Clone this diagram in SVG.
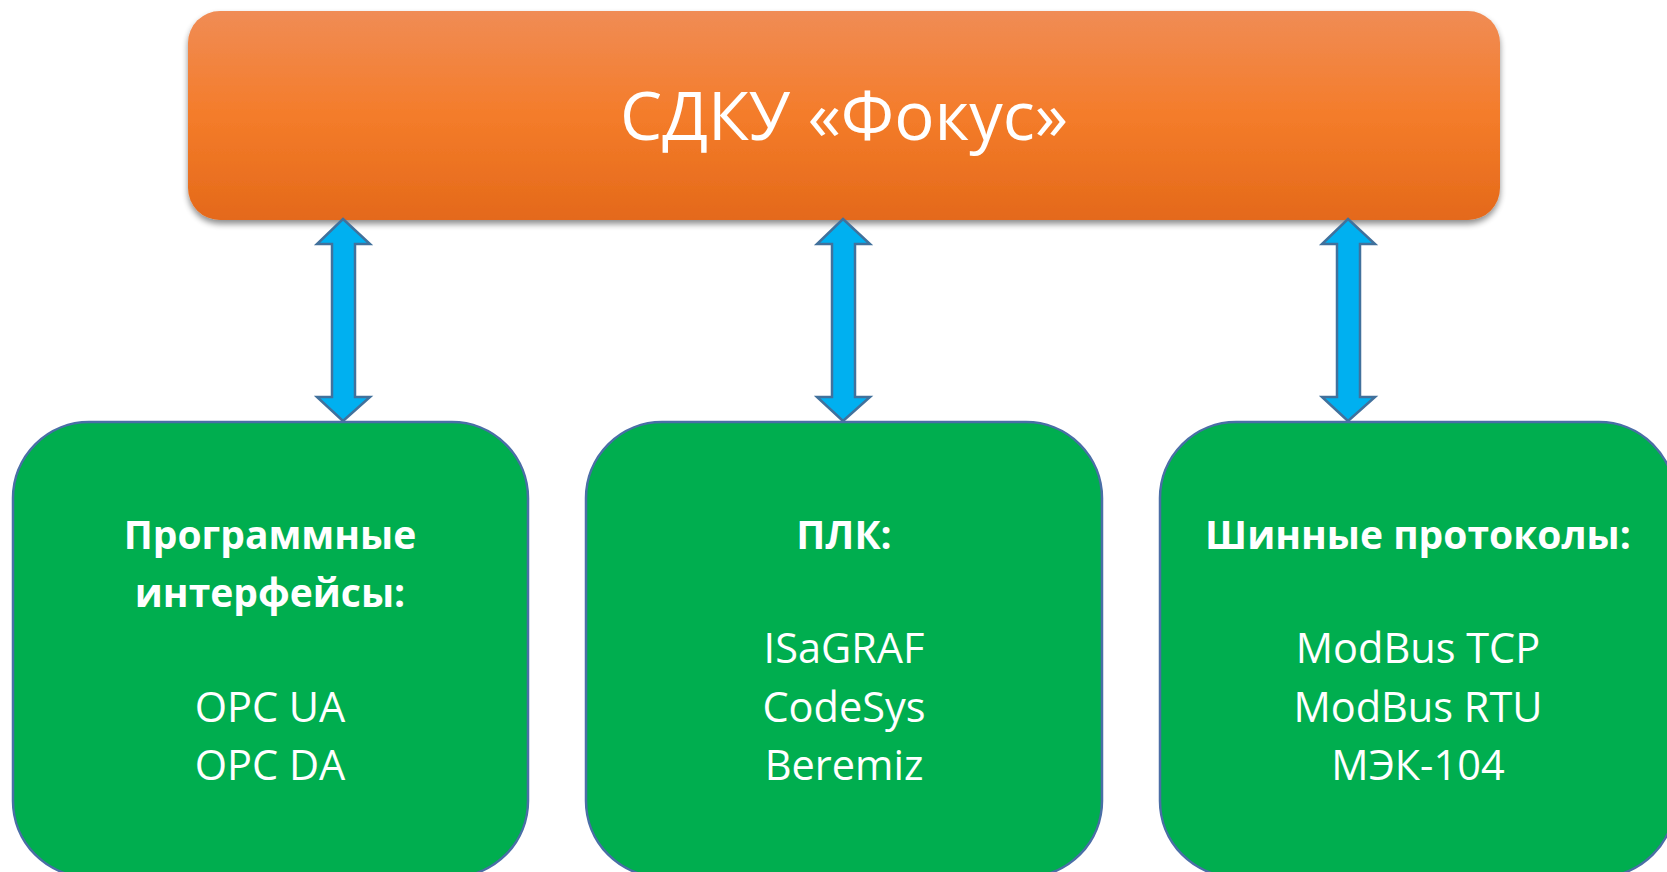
<svg xmlns="http://www.w3.org/2000/svg" width="1667" height="872" viewBox="0 0 1667 872">
  <style>
    .node-green { fill: #00AE4F; stroke: #4A6EA6; stroke-width: 2.5; }
    .arrow { fill: #00B0F0; stroke: #41719C; stroke-width: 2.5; stroke-linejoin: miter; }
    .title { font-family: "Open Sans", "Liberation Sans", sans-serif; font-size: 67px; fill: #ffffff; text-anchor: middle; }
    .head { font-family: "Open Sans", "Liberation Sans", sans-serif; font-weight: bold; font-size: 39px; fill: #ffffff; text-anchor: middle; }
    .item { font-family: "Open Sans", "Liberation Sans", sans-serif; font-size: 41.5px; fill: #ffffff; text-anchor: middle; }
  </style>
  <defs>
    <linearGradient id="orangeGrad" x1="0" y1="0" x2="0" y2="1">
      <stop offset="0" stop-color="#F08C55"/>
      <stop offset="0.5" stop-color="#F47C2A"/>
      <stop offset="1" stop-color="#E4691A"/>
    </linearGradient>
    <filter id="shadow" x="-5%" y="-10%" width="110%" height="130%">
      <feGaussianBlur in="SourceAlpha" stdDeviation="3"/>
      <feOffset dx="0" dy="4" result="b"/>
      <feComponentTransfer><feFuncA type="linear" slope="0.45"/></feComponentTransfer>
      <feMerge><feMergeNode/><feMergeNode in="SourceGraphic"/></feMerge>
    </filter>
  </defs>
  <rect width="1667" height="872" fill="#ffffff"/>

  <g id="sdku">
    <rect x="188" y="11" width="1312" height="209" rx="32" ry="32" fill="url(#orangeGrad)" filter="url(#shadow)"/>
    <text class="title" x="844" y="140">СДКУ «Фокус»</text>
  </g>

  <g id="connectors">
    <path class="arrow" d="M343,219 L370,244 L355,244 L355,397 L370,397 L343,421 L317,397 L332,397 L332,244 L317,244 Z"/>
    <path class="arrow" d="M843,219 L870,244 L855,244 L855,397 L870,397 L843,421 L817,397 L832,397 L832,244 L817,244 Z"/>
    <path class="arrow" d="M1348,219 L1375,244 L1360,244 L1360,397 L1375,397 L1348,421 L1322,397 L1337,397 L1337,244 L1322,244 Z"/>
  </g>

  <g id="software">
    <rect class="node-green" x="13" y="422" width="515" height="455" rx="76" ry="76"/>
    <text class="head" x="270" y="549">Программные</text>
    <text class="head" x="270" y="607">интерфейсы:</text>
    <text class="item" x="270" y="722">OPC UA</text>
    <text class="item" x="270" y="780">OPC DA</text>
  </g>

  <g id="plc">
    <rect class="node-green" x="586" y="422" width="516" height="455" rx="76" ry="76"/>
    <text class="head" x="844" y="549">ПЛК:</text>
    <text class="item" x="844" y="663">ISaGRAF</text>
    <text class="item" x="844" y="722">CodeSys</text>
    <text class="item" x="844" y="780">Beremiz</text>
  </g>

  <g id="bus">
    <rect class="node-green" x="1160" y="422" width="515" height="455" rx="76" ry="76"/>
    <text class="head" x="1418" y="549">Шинные протоколы:</text>
    <text class="item" x="1418" y="663">ModBus TCP</text>
    <text class="item" x="1418" y="722">ModBus RTU</text>
    <text class="item" x="1418" y="780">МЭК-104</text>
  </g>
</svg>
